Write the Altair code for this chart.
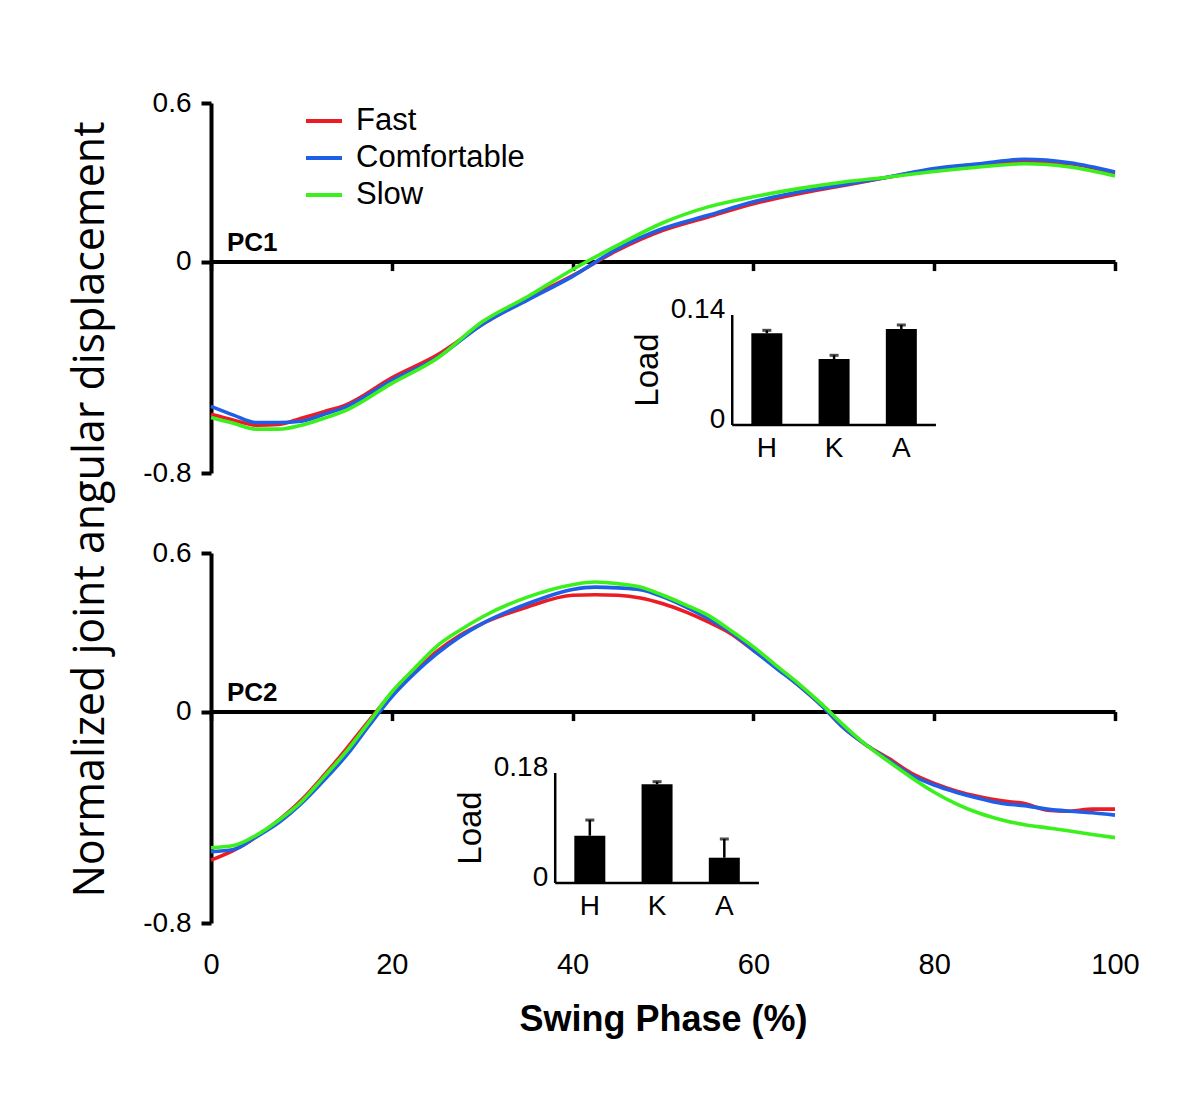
import altair as alt
import pandas as pd

# ---------------- data ----------------
series = ["Fast", "Comfortable", "Slow"]
series_colors = ["#ec1c24", "#1f5fe8", "#3cf01e"]

pc1_x = [0, 2.5, 5, 7.5, 10, 12.5, 15, 20, 25, 30, 35, 40, 45, 50, 55, 60, 65, 70, 75, 80, 85, 90, 95, 100]
pc1_fast = [-0.578, -0.600, -0.619, -0.616, -0.593, -0.568, -0.541, -0.440, -0.354, -0.238, -0.140, -0.053,
            0.043, 0.118, 0.169, 0.219, 0.257, 0.288, 0.320, 0.349, 0.368, 0.379, 0.370, 0.333]
pc1_comf = [-0.548, -0.581, -0.609, -0.609, -0.604, -0.578, -0.549, -0.449, -0.364, -0.238, -0.146, -0.056,
            0.049, 0.125, 0.175, 0.226, 0.263, 0.291, 0.320, 0.352, 0.370, 0.387, 0.374, 0.339]
pc1_slow = [-0.590, -0.612, -0.634, -0.634, -0.619, -0.593, -0.562, -0.461, -0.367, -0.228, -0.133, -0.030,
            0.062, 0.147, 0.207, 0.245, 0.276, 0.301, 0.320, 0.341, 0.358, 0.370, 0.358, 0.324]

pc2_x = [0, 2.5, 5, 7.5, 10, 12.5, 15, 17.5, 20, 22.5, 25, 27.5, 30, 35, 40, 42.5, 45, 47.5, 50, 52.5, 55,
         57.5, 60, 62.5, 65, 67.5, 70, 72.5, 75, 77.5, 80, 82.5, 85, 87.5, 90, 92.5, 95, 97.5, 100]
pc2_fast = [-0.562, -0.525, -0.474, -0.411, -0.335, -0.241, -0.140, -0.033, 0.068, 0.150, 0.228, 0.288, 0.333,
            0.396, 0.440, 0.442, 0.440, 0.430, 0.408, 0.377, 0.339, 0.295, 0.232, 0.169, 0.099, 0.024, -0.062,
            -0.127, -0.178, -0.234, -0.272, -0.301, -0.322, -0.338, -0.348, -0.373, -0.377, -0.369, -0.369]
pc2_comf = [-0.530, -0.522, -0.474, -0.420, -0.348, -0.260, -0.165, -0.052, 0.056, 0.144, 0.219, 0.282, 0.333,
            0.408, 0.462, 0.471, 0.468, 0.461, 0.434, 0.396, 0.352, 0.301, 0.232, 0.165, 0.099, 0.024, -0.062,
            -0.127, -0.184, -0.241, -0.278, -0.306, -0.329, -0.348, -0.356, -0.369, -0.377, -0.383, -0.392]
pc2_slow = [-0.515, -0.507, -0.468, -0.411, -0.341, -0.247, -0.150, -0.039, 0.074, 0.163, 0.248, 0.307, 0.358,
            0.433, 0.480, 0.490, 0.484, 0.471, 0.440, 0.404, 0.364, 0.307, 0.245, 0.175, 0.106, 0.030, -0.052,
            -0.127, -0.190, -0.250, -0.305, -0.350, -0.385, -0.410, -0.428, -0.440, -0.452, -0.465, -0.477]

panel_labels = ["PC1", "PC2"]
x_ticks = [0, 20, 40, 60, 80, 100]
y_ticks = [-0.8, 0, 0.6]

joints = ["H", "K", "A"]
load1 = [0.1167, 0.0840, 0.1222]
load1_top = [0.1205, 0.0887, 0.1273]
load1_ticks = ["0", "0.14"]
load1_tickvals = [0, 0.14]

load2 = [0.0774, 0.1615, 0.0414]
load2_top = [0.1030, 0.1658, 0.0720]
load2_ticks = ["0", "0.18"]
load2_tickvals = [0, 0.18]

y_title = "Normalized joint angular displacement"
x_title = "Swing Phase (%)"
load_title = "Load"

# ---------------- layout (pixels) ----------------
W, H = 904, 370
YMIN, YMAX = -0.8, 0.6
ZERO_PX = H * YMAX / (YMAX - YMIN)       # y pixel of value 0 from the top
FONT = "Liberation Sans"
SP = 68                                   # inset bar spacing (px)

def curves(xs, f, c, s):
    rows = []
    for name, vals in zip(series, [f, c, s]):
        for x, v in zip(xs, vals):
            rows.append({"x": x, "v": v, "cond": name})
    return pd.DataFrame(rows)

xscale = alt.Scale(domain=[0, 100], nice=False, zero=False)
yscale = alt.Scale(domain=[YMIN, YMAX], nice=False, zero=False)
cscale = alt.Scale(domain=series, range=series_colors)

zero_axis = alt.Axis(values=x_ticks, labels=False, ticks=True, tickSize=9, tickWidth=3.5,
                     tickColor="black", domainColor="black", domainWidth=4, orient="bottom",
                     offset=-(H - ZERO_PX), title=None, grid=False)

label_expr = "datum.value == 0 ? '0' : (datum.value < 0 ? '-' : '') + format(abs(datum.value), '.1f')"

def y_axis(with_title):
    kw = dict(values=y_ticks, labelExpr=label_expr, labelFontSize=28, labelFont=FONT, labelColor="black",
              labelPadding=10, tickSize=10, tickWidth=4, tickColor="black", domainWidth=4,
              domainColor="black", grid=False)
    if with_title:
        kw.update(title=y_title, titleFont="Open Sans", titleFontSize=43, titleFontWeight="normal",
                  titleColor="black", titleAngle=270, titleX=-121, titleY=406, titleAlign="center",
                  titleBaseline="middle")
    else:
        kw.update(title=None)
    return alt.Axis(**kw)


def main_part(df, label, top):
    if top:
        xax = zero_axis
        legend = alt.Legend(orient="none", legendX=93, legendY=-2, title=None, symbolType="stroke",
                            symbolSize=1296, symbolStrokeWidth=4, labelFontSize=31, labelFont=FONT,
                            labelColor="black", labelOffset=12, rowPadding=2, padding=0, labelLimit=0)
    else:
        xax = alt.Axis(values=x_ticks, orient="bottom", labelFontSize=29, labelFont=FONT,
                       labelColor="black", labelFlush=False, domain=False, ticks=False, labelPadding=27,
                       grid=False, title=x_title, titleFont=FONT, titleFontSize=36,
                       titleFontWeight="bold", titleColor="black", titlePadding=23)
        legend = None
    lines = alt.Chart(df).mark_line(strokeWidth=3.6, interpolate="monotone").encode(
        x=alt.X("x:Q", scale=xscale, axis=xax),
        y=alt.Y("v:Q", scale=yscale, axis=y_axis(top)),
        color=alt.Color("cond:N", scale=cscale, legend=legend, sort=series),
    )
    text = alt.Chart(pd.DataFrame({"t": [label]})).mark_text(
        align="left", baseline="alphabetic", dx=16, dy=-11, fontSize=26, fontWeight="bold",
        font=FONT, color="black"
    ).encode(
        x=alt.XDatum(0, scale=xscale, axis=(None if top else zero_axis)),
        y=alt.YDatum(0, scale=yscale, axis=None),
        text="t:N",
    )
    return alt.layer(text, lines).resolve_axis(x="independent", y="independent")


def inset(vals, tops, tick_labels, tick_vals, x0, base, top_px):
    vmax = tick_vals[-1]
    k = (base - top_px) / vmax
    xs = alt.Scale(domain=[-x0 / SP - 0.5, (W - x0) / SP - 0.5], nice=False, zero=False)
    ys = alt.Scale(domain=[-(H - base) / k, base / k], nice=False, zero=False)
    edge = 0.5 + 1.0 / SP
    df = pd.DataFrame({"i": list(range(len(joints))), "cat": joints, "v": vals, "e": tops})
    one = pd.DataFrame({"a": [0]})
    X = lambda f: alt.X(f, scale=xs, axis=None)
    Y = lambda f: alt.Y(f, scale=ys, axis=None)
    bars = alt.Chart(df).mark_bar(size=31, color="black").encode(
        x=X("i:Q"), y=Y("v:Q"), y2=alt.datum(0))
    err = alt.Chart(df).mark_rule(color="black", strokeWidth=2.5).encode(
        x=X("i:Q"), y=Y("v:Q"), y2="e:Q")
    caps = alt.Chart(df).mark_tick(orient="horizontal", size=9, thickness=3, color="black").encode(
        x=X("i:Q"), y=Y("e:Q"))
    yline = alt.Chart(one).mark_rule(color="black", strokeWidth=2.5).encode(
        x=alt.XDatum(-edge, scale=xs, axis=None), y=alt.YDatum(0, scale=ys, axis=None),
        y2=alt.datum(vmax))
    xline = alt.Chart(one).mark_rule(color="black", strokeWidth=2.5).encode(
        x=alt.XDatum(-edge, scale=xs, axis=None), x2=alt.datum(len(joints) - 1 + edge),
        y=alt.YDatum(0, scale=ys, axis=None))
    tl = alt.Chart(pd.DataFrame({"lab": tick_labels, "val": tick_vals})).mark_text(
        align="right", baseline="alphabetic", dx=-7, dy=3, fontSize=28, font=FONT, color="black"
    ).encode(x=alt.XDatum(-edge, scale=xs, axis=None), y=Y("val:Q"), text="lab:N")
    cl = alt.Chart(df).mark_text(baseline="alphabetic", dy=32, fontSize=28, font=FONT,
                                 color="black").encode(
        x=X("i:Q"), y=alt.YDatum(0, scale=ys, axis=None), text="cat:N")
    ld = alt.Chart(pd.DataFrame({"t": [load_title]})).mark_text(
        angle=270, align="center", baseline="middle", dy=-84, fontSize=33, font=FONT, color="black"
    ).encode(x=alt.XDatum(-edge, scale=xs, axis=None), y=alt.YDatum(vmax / 2, scale=ys, axis=None),
             text="t:N")
    return alt.layer(yline, xline, bars, err, caps, tl, cl, ld)


top = alt.layer(
    main_part(curves(pc1_x, pc1_fast, pc1_comf, pc1_slow), panel_labels[0], True),
    inset(load1, load1_top, load1_ticks, load1_tickvals, x0=523, base=322, top_px=212),
).resolve_scale(x="independent", y="independent").properties(width=W, height=H)

bottom = alt.layer(
    main_part(curves(pc2_x, pc2_fast, pc2_comf, pc2_slow), panel_labels[1], False),
    inset(load2, load2_top, load2_ticks, load2_tickvals, x0=344, base=330, top_px=220),
).resolve_scale(x="independent", y="independent").properties(width=W, height=H)

chart = alt.vconcat(top, bottom, spacing=80, bounds="flush").resolve_scale(
    color="independent"
).properties(
    padding={"left": 60, "top": 81, "right": 40, "bottom": 40},
    background="white",
).configure_view(stroke=None)

chart.save("out.html", embed_options={"renderer": "svg", "actions": False})
